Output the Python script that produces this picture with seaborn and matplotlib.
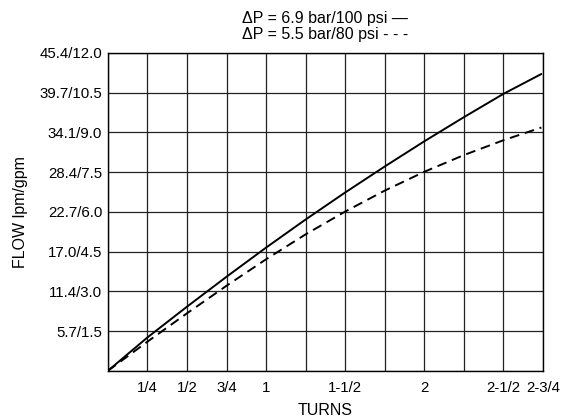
import pandas as pd
import seaborn as sns
import matplotlib.pyplot as plt

# flow curves (turns vs gpm)
turns = [0, 0.25, 0.5, 0.75, 1.0, 1.25, 1.5, 1.75, 2.0, 2.25, 2.5, 2.74]
flow_100psi = [0, 1.26, 2.42, 3.55, 4.65, 5.71, 6.73, 7.71, 8.66, 9.57, 10.45, 11.2]
flow_80psi = [0, 1.10, 2.17, 3.21, 4.21, 5.15, 6.01, 6.80, 7.51, 8.14, 8.70, 9.18]

x_ticks = [0.25 * i for i in range(12)]
x_labels = ["", "1/4", "1/2", "3/4", "1", "", "1-1/2", "", "2", "", "2-1/2", "2-3/4"]
y_ticks = [1.5 * i for i in range(9)]
y_labels = ["", "5.7/1.5", "11.4/3.0", "17.0/4.5", "22.7/6.0",
            "28.4/7.5", "34.1/9.0", "39.7/10.5", "45.4/12.0"]

sns.set_theme(style="white")
plt.rcParams['font.family'] = ['Liberation Sans', 'DejaVu Sans']
plt.rcParams['text.color'] = 'black'
plt.rcParams['axes.labelcolor'] = 'black'

df = pd.DataFrame({
    "turns": turns * 2,
    "flow": flow_100psi + flow_80psi,
    "dp": ["100"] * len(turns) + ["80"] * len(turns),
})

fig = plt.figure(figsize=(5.77, 4.19), dpi=100)
ax = fig.add_axes([0.187, 0.115, 0.754, 0.759])

sns.lineplot(data=df[df.dp == "100"], x="turns", y="flow", color="black",
             linewidth=1.4, ax=ax)
sns.lineplot(data=df[df.dp == "80"], x="turns", y="flow", color="black",
             linewidth=1.4, ax=ax)
ax.lines[1].set_dashes([5, 3])

ax.set_xlim(0, 2.75)
ax.set_ylim(0, 12)
ax.set_xticks(x_ticks)
ax.set_xticklabels(x_labels)
ax.set_yticks(y_ticks)
ax.set_yticklabels(y_labels)
ax.tick_params(length=0, labelsize=10.8, colors="black")
ax.tick_params(axis="x", pad=7)
ax.tick_params(axis="y", pad=4)
ax.grid(True, color="#222222", linewidth=0.9)
for s in ax.spines.values():
    s.set_color("black")
    s.set_linewidth(1.0)

ax.set_xlabel("TURNS", fontsize=11.5, labelpad=6, color="black")
ax.set_ylabel("FLOW lpm/gpm", fontsize=11.5, labelpad=8, color="black")
ax.set_title("\u0394P = 6.9 bar/100 psi \u2014\n\u0394P = 5.5 bar/80 psi - - -",
             fontsize=11.5, linespacing=1.1, pad=10, color="black")

plt.savefig("out.png", dpi=100)
